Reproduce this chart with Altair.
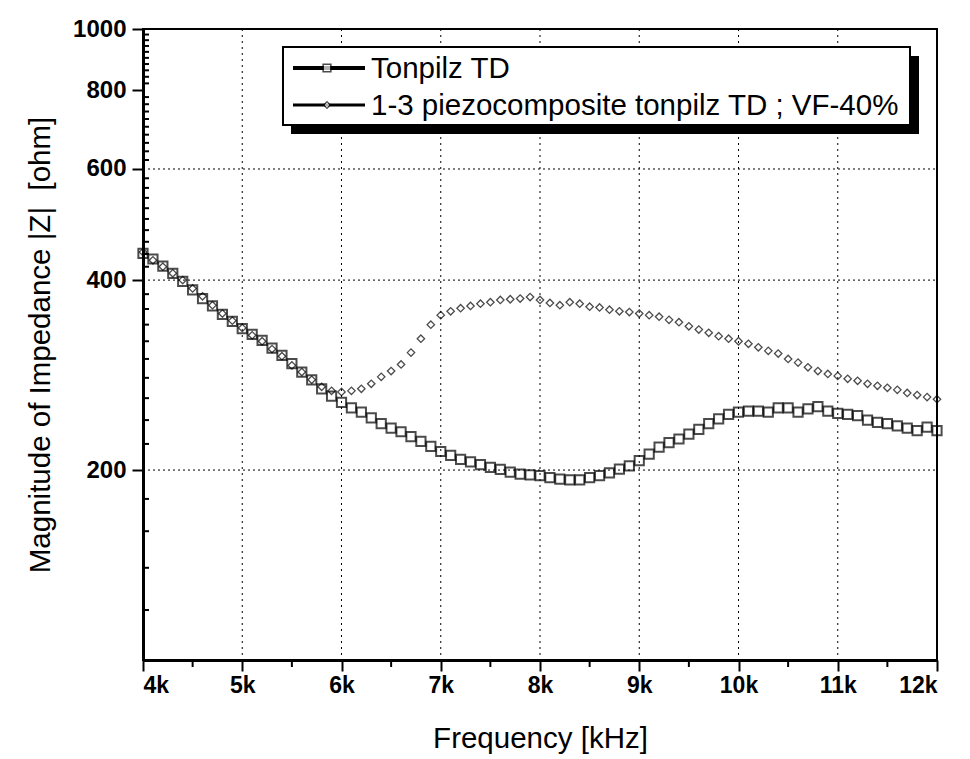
import altair as alt
import pandas as pd

# ---------------- data ----------------
freq_khz = [4.0, 4.1, 4.2, 4.3, 4.4, 4.5, 4.6, 4.7, 4.8, 4.9,
            5.0, 5.1, 5.2, 5.3, 5.4, 5.5, 5.6, 5.7, 5.8, 5.9,
            6.0, 6.1, 6.2, 6.3, 6.4, 6.5, 6.6, 6.7, 6.8, 6.9,
            7.0, 7.1, 7.2, 7.3, 7.4, 7.5, 7.6, 7.7, 7.8, 7.9,
            8.0, 8.1, 8.2, 8.3, 8.4, 8.5, 8.6, 8.7, 8.8, 8.9,
            9.0, 9.1, 9.2, 9.3, 9.4, 9.5, 9.6, 9.7, 9.8, 9.9,
            10.0, 10.1, 10.2, 10.3, 10.4, 10.5, 10.6, 10.7, 10.8, 10.9,
            11.0, 11.1, 11.2, 11.3, 11.4, 11.5, 11.6, 11.7, 11.8, 11.9,
            12.0]

tonpilz = [441, 432, 421, 410, 398, 386, 374, 364, 353, 344,
           335, 328, 321, 312, 304, 295, 286, 278, 269, 262,
           256, 251, 247, 242, 237, 233, 230, 226, 222, 218,
           214, 211, 208, 206, 204, 202, 200.5, 198.5, 197, 196.5,
           196, 194.5, 193.5, 193, 193, 194.5, 196, 198, 200.7, 203,
           207, 212, 217.5, 221, 224, 228, 232, 237, 241, 245,
           247, 248, 248, 247, 251, 251, 247, 250, 252, 248,
           246, 245, 244, 240, 238, 237, 235, 233, 231, 234,
           231]

composite = [443, 430, 420, 410, 400, 388, 377, 365, 354, 345,
             336, 327, 320, 311, 303, 293, 286, 278, 271, 267,
             266, 267, 269, 274, 281, 287, 294, 307, 323, 340,
             352, 357, 361, 364, 367, 369, 372, 373, 374, 376,
             372, 368, 365, 369, 367, 363, 362, 359, 357, 356,
             354, 352, 350, 346, 343, 338, 334, 330, 326, 323,
             320, 317, 313, 309, 306, 300, 296, 291, 287, 284,
             282, 279, 277, 274, 272, 270, 268, 265, 263, 261,
             259]

x_major = [4, 5, 6, 7, 8, 9, 10, 11, 12]
x_minor = [4.5, 5.5, 6.5, 7.5, 8.5, 9.5, 10.5, 11.5]
x_grid = [5, 6, 7, 8, 9, 10, 11]
y_major = [200, 400, 600, 800, 1000]
y_minor = [120, 140, 160, 180, 220, 240, 260, 280, 300, 320, 340, 360, 380,
           420, 440, 460, 480, 500, 520, 540, 560, 580,
           620, 640, 660, 680, 700, 720, 740, 760, 780,
           820, 840, 860, 880, 900, 920, 940, 960, 980]
y_grid = [200, 400, 600]
legend_labels = ["Tonpilz TD", "1-3 piezocomposite tonpilz TD ; VF-40%"]

# ---------------- layout ----------------
W, H = 794, 631
FONT = "Liberation Sans"

df_t = pd.DataFrame({"f": freq_khz, "z": tonpilz})
df_c = pd.DataFrame({"f": freq_khz, "z": composite})

x_scale = alt.Scale(domain=[4, 12], nice=False, zero=False)
y_scale = alt.Scale(type="log", domain=[100, 1000], nice=False)

x_enc = alt.X("f:Q", scale=x_scale,
              axis=alt.Axis(values=x_major, labelExpr="datum.value + 'k'",
                            title="Frequency [kHz]", grid=False,
                            tickSize=11, tickWidth=2, tickColor="black",
                            domainColor="black", domainWidth=3,
                            labelFont=FONT, labelFontSize=23, labelFontWeight="bold",
                            labelColor="black", labelPadding=3,
                            titleFont=FONT, titleFontSize=29.5, titleFontWeight="normal",
                            titleColor="black", titlePadding=27))
y_enc = alt.Y("z:Q", scale=y_scale,
              axis=alt.Axis(values=y_major, format="d",
                            title="Magnitude of Impedance |Z|\u00a0\u00a0[ohm]", grid=False,
                            tickSize=11, tickWidth=2, tickColor="black",
                            domainColor="black", domainWidth=3,
                            labelFont=FONT, labelFontSize=24, labelFontWeight="bold",
                            labelColor="black", labelPadding=6,
                            titleFont=FONT, titleFontSize=29.5, titleFontWeight="normal",
                            titleColor="black", titlePadding=17))

grid_h = alt.Chart(pd.DataFrame({"z": y_grid})).mark_rule(
    color="black", strokeWidth=1, strokeDash=[2, 3]
).encode(y=y_enc, x=alt.value(0), x2=alt.value(W))

grid_v = alt.Chart(pd.DataFrame({"f": x_grid})).mark_rule(
    color="black", strokeWidth=1, strokeDash=[2, 4]
).encode(x=x_enc, y=alt.value(0), y2=alt.value(H))

pts_c = alt.Chart(df_c).mark_point(
    shape="diamond", filled=False, color="black", size=55, strokeWidth=1.3
).encode(x=x_enc, y=y_enc)

pts_t = alt.Chart(df_t).mark_point(
    shape="square", filled=False, color="black", size=85, strokeWidth=2
).encode(x=x_enc, y=y_enc)

minor_x = alt.Chart(pd.DataFrame({"f": x_minor})).mark_rule(
    color="black", strokeWidth=2
).encode(x=x_enc, y=alt.value(H), y2=alt.value(H + 7))

minor_y = alt.Chart(pd.DataFrame({"z": y_minor})).mark_rule(
    color="black", strokeWidth=2
).encode(y=y_enc, x=alt.value(0), x2=alt.value(6))

# ---------------- legend box ----------------
leg = alt.Chart(pd.DataFrame({"k": [0]}))
shadow = leg.mark_rect(color="black").encode(
    x=alt.value(148), x2=alt.value(776), y=alt.value(27), y2=alt.value(105))
box = leg.mark_rect(fill="white", stroke="black", strokeWidth=2).encode(
    x=alt.value(140), x2=alt.value(767), y=alt.value(18), y2=alt.value(96))
line1 = leg.mark_rule(color="black", strokeWidth=4).encode(
    x=alt.value(150), x2=alt.value(222), y=alt.value(39))
line2 = leg.mark_rule(color="black", strokeWidth=3).encode(
    x=alt.value(150), x2=alt.value(222), y=alt.value(76))
mk1 = leg.mark_point(shape="square", filled=True, fill="white", stroke="black",
                     strokeWidth=1.5, size=60).encode(x=alt.value(184), y=alt.value(39))
mk2 = leg.mark_point(shape="diamond", filled=True, fill="white", stroke="black",
                     strokeWidth=1.2, size=45).encode(x=alt.value(184), y=alt.value(76))
txt1 = leg.mark_text(align="left", baseline="middle", font=FONT, fontSize=29.5,
                     color="black").encode(x=alt.value(228), y=alt.value(40),
                                           text=alt.value(legend_labels[0]))
txt2 = leg.mark_text(align="left", baseline="middle", font=FONT, fontSize=29.5,
                     color="black").encode(x=alt.value(228), y=alt.value(77),
                                           text=alt.value(legend_labels[1]))

chart = alt.layer(
    grid_h, grid_v, pts_c, pts_t, minor_x, minor_y,
    shadow, box, line1, line2, mk1, mk2, txt1, txt2
).properties(
    width=W, height=H,
    autosize=alt.AutoSizeParams(type="none"),
    padding={"left": 135, "top": 21, "right": 25, "bottom": 99},
    background="white",
).configure_view(stroke="black", strokeWidth=2)

chart.save("out.html", embed_options={"renderer": "svg", "actions": False})
